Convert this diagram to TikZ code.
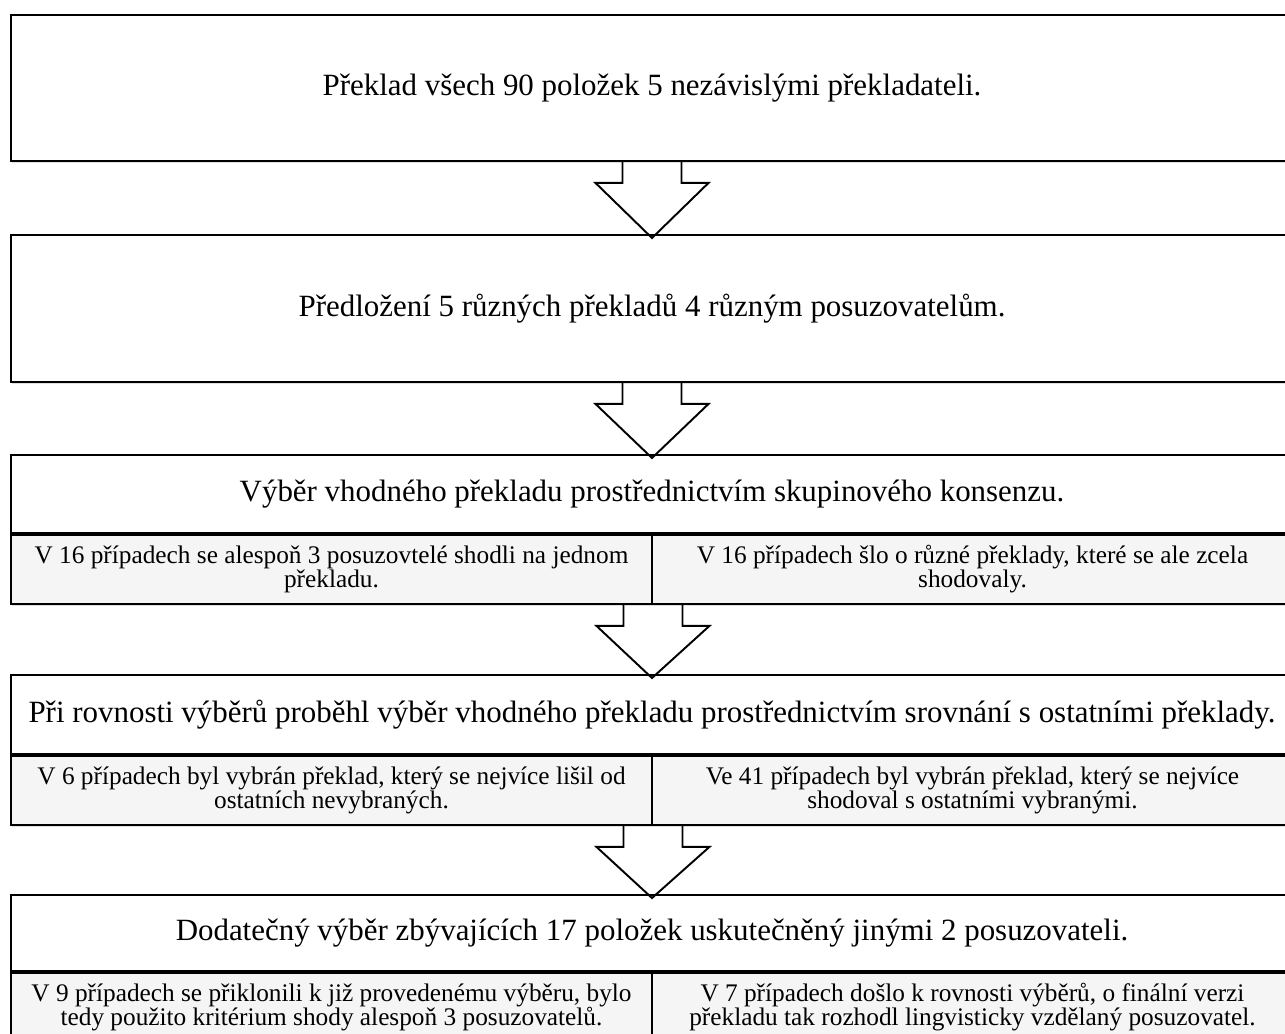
\documentclass[tikz,border=0pt]{standalone}
\usepackage{fontspec}
\setmainfont{Liberation Serif}
\usetikzlibrary{positioning,calc,shadows}

\tikzset{
  stepbox/.style={draw, line width=1.1pt, fill=white, minimum width=25.64cm,
    inner sep=0pt, font=\fontsize{17.6}{19}\selectfont,
    drop shadow={shadow xshift=0.6pt, shadow yshift=-1.4pt, opacity=0.25}},
  subbox/.style={draw, line width=1.1pt, fill=black!4, minimum width=12.82cm,
    minimum height=1.38cm, inner sep=0pt, align=center,
    font=\fontsize{14.4}{13.6}\selectfont,
    drop shadow={shadow xshift=0.6pt, shadow yshift=-1.4pt, opacity=0.25}},
  blockarr/.style={draw, line width=1.1pt, line join=miter}
}

\newcommand{\downarr}[2]{%
  \draw[blockarr] ($(#1)+(-0.59,0)$) -- ++(0,-0.42) -- ++(-0.54,0)
    -- ($(#2)+(0,-0.08)$) -- ($(#1)+(1.13,-0.42)$) -- ++(-0.54,0)
    -- ($(#1)+(0.59,0)$);}

\begin{document}
\begin{tikzpicture}
\useasboundingbox (0,0) rectangle (25.7,-20.66);
\clip (0,0) rectangle (25.7,-20.66);

\node[stepbox, minimum height=2.92cm, anchor=north] (t1) at (13.04,-0.28)
  {Překlad všech 90 položek 5 nezávislými překladateli.};
\node[stepbox, minimum height=2.94cm, anchor=north] (t2) at (13.04,-4.68)
  {Předložení 5 různých překladů 4 různým posuzovatelům.};

\node[stepbox, minimum height=1.56cm, anchor=north] (t3) at (13.04,-9.08)
  {Výběr vhodného překladu prostřednictvím skupinového konsenzu.};
\node[subbox, anchor=north west] (s3a) at (t3.south west)
  {V 16 případech se alespoň 3 posuzovtelé shodli na jednom\\ překladu.};
\node[subbox, anchor=north east] (s3b) at (t3.south east)
  {V 16 případech šlo o různé překlady, které se ale zcela\\ shodovaly.};

\node[stepbox, minimum height=1.58cm, anchor=north] (t4) at (13.04,-13.48)
  {Při rovnosti výběrů proběhl výběr vhodného překladu prostřednictvím srovnání s ostatními překlady.};
\node[subbox, anchor=north west] (s4a) at (t4.south west)
  {V 6 případech byl vybrán překlad, který se nejvíce lišil od\\ ostatních nevybraných.};
\node[subbox, anchor=north east] (s4b) at (t4.south east)
  {Ve 41 případech byl vybrán překlad, který se nejvíce\\ shodoval s ostatními vybranými.};

\node[stepbox, minimum height=1.52cm, anchor=north] (t5) at (13.04,-17.88)
  {Dodatečný výběr zbývajících 17 položek uskutečněný jinými 2 posuzovateli.};
\node[subbox, anchor=north west] (s5a) at (t5.south west)
  {V 9 případech se přiklonili k již provedenému výběru, bylo\\ tedy použito kritérium shody alespoň 3 posuzovatelů.};
\node[subbox, anchor=north east] (s5b) at (t5.south east)
  {V 7 případech došlo k rovnosti výběrů, o finální verzi\\ překladu tak rozhodl lingvisticky vzdělaný posuzovatel.};

% sipky mezi kroky
\downarr{t1.south}{t2.north}
\downarr{t2.south}{t3.north}
\downarr{s3a.south east}{t4.north}
\downarr{s4a.south east}{t5.north}

\end{tikzpicture}
\end{document}
